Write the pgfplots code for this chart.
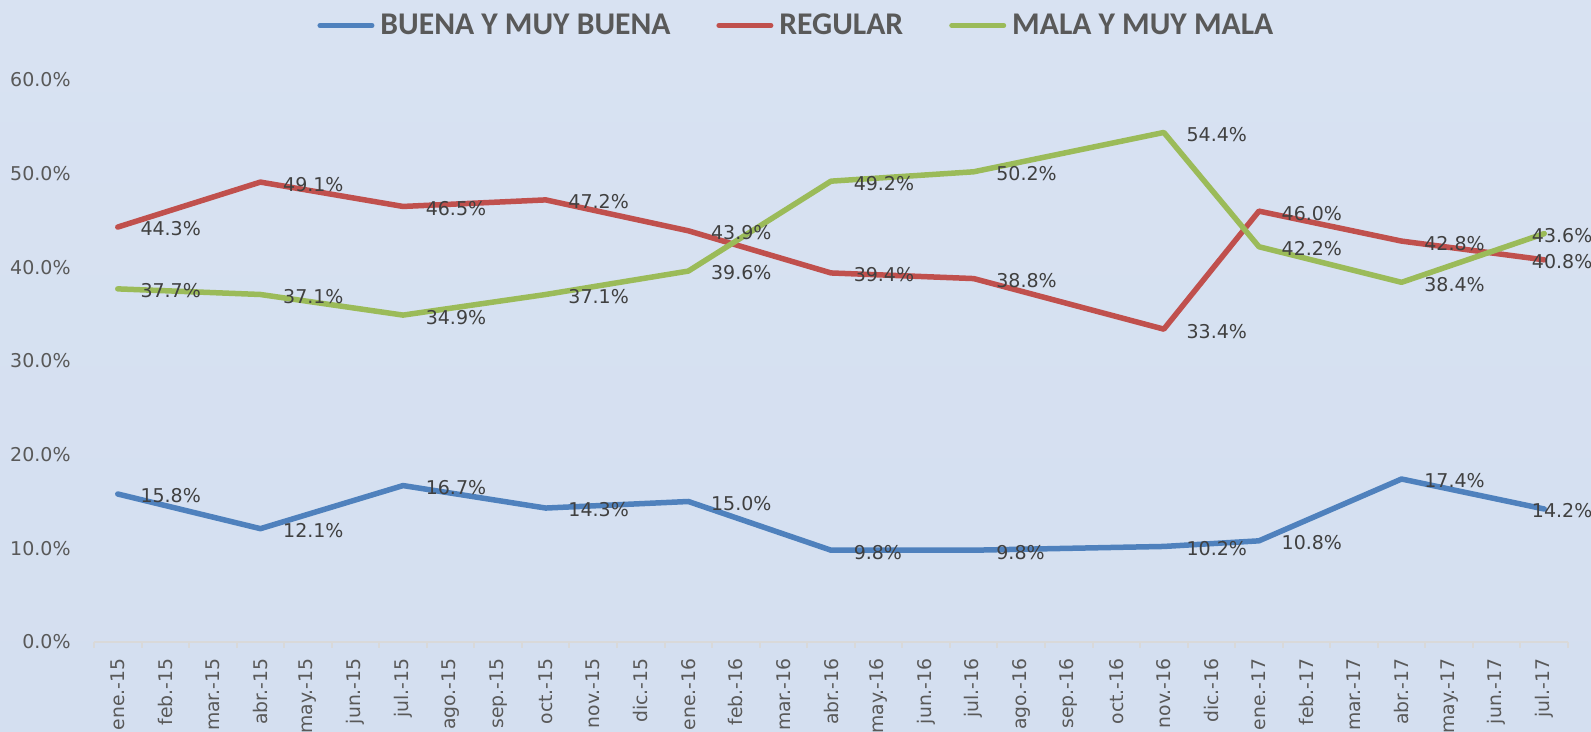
\documentclass[border=0pt]{standalone}
\usepackage{pgfplots}
\usepackage{pgfplotstable}
\pgfplotsset{compat=1.18}
\usepackage{fontspec}
\setmainfont{DejaVu Sans}
\newfontfamily\carlito{Carlito}
\definecolor{bgtop}{RGB}{216,226,242}
\definecolor{bgbot}{RGB}{212,223,240}
\definecolor{cblue}{RGB}{79,129,189}
\definecolor{cred}{RGB}{192,80,77}
\definecolor{cgreen}{RGB}{155,187,89}
\definecolor{txt}{RGB}{89,89,89}
\definecolor{lbl}{RGB}{64,64,64}
\definecolor{axc}{RGB}{217,217,217}
\pgfplotstableread{
x blue red green sh
0 15.8 44.3 37.7 10
3 12.1 49.1 37.1 10
6 16.7 46.5 34.9 10
9 14.3 47.2 37.1 10
12 15.0 43.9 39.6 10
15 9.8 39.4 49.2 10
18 9.8 38.8 50.2 10
22 10.2 33.4 54.4 10
24 10.8 46.0 42.2 10
27 17.4 42.8 38.4 10
30 14.2 40.8 43.6 -7.5
}\datatab
\begin{document}
\begin{tikzpicture}
\path[use as bounding box] (0,0) rectangle (795.5pt,366pt);
\shade[top color=bgtop,bottom color=bgbot] (0,0) rectangle (795.5pt,366pt);
\clip (0,0) rectangle (795.5pt,366pt);
\begin{axis}[
  at={(47pt,45pt)}, anchor=south west, scale only axis,
  width=737pt, height=281pt,
  xmin=-0.5, xmax=30.5, ymin=0, ymax=60,
  clip=false,
  axis x line*=bottom, axis y line*=left,
  x axis line style={draw=axc, line width=1pt},
  y axis line style={draw=none},
  xtick={0,...,30},
  xticklabels={ene.-15,feb.-15,mar.-15,abr.-15,may.-15,jun.-15,jul.-15,ago.-15,sep.-15,oct.-15,nov.-15,dic.-15,
               ene.-16,feb.-16,mar.-16,abr.-16,may.-16,jun.-16,jul.-16,ago.-16,sep.-16,oct.-16,nov.-16,dic.-16,
               ene.-17,feb.-17,mar.-17,abr.-17,may.-17,jun.-17,jul.-17},
  major tick length=0pt,
  minor xtick={-0.5,0.5,...,30.5},
  minor tick length=3pt,
  minor x tick style={draw=axc, line width=1pt},
  tick align=outside,
  xticklabel style={rotate=90, anchor=east, font=\fontsize{9.4}{10}\selectfont, text=txt, inner sep=0pt},
  xticklabel shift=8pt,
  ytick={0,10,...,60},
  yticklabel={\pgfmathprintnumber[fixed,fixed zerofill,precision=1]{\tick}\%},
  yticklabel style={font=\fontsize{9.5}{11}\selectfont, text=txt, inner sep=0pt},
  yticklabel shift=11.5pt,
  /pgf/number format/assume math mode=true,
  legend columns=3,
  legend style={at={(0.4772,1.097)}, anchor=center, draw=none, fill=none,
    font=\carlito\bfseries\fontsize{15.8}{18}\selectfont, text=txt,
    /tikz/every odd column/.append style={column sep=1pt},
    /tikz/every even column/.append style={column sep=21pt}},
  legend image code/.code={\draw[#1, line width=2.5pt, line cap=round] (0pt,0pt) -- (26pt,0pt);},
  visualization depends on={\thisrow{sh} \as \labshift},
  nodes near coords={\pgfmathprintnumber[fixed,fixed zerofill,precision=1]{\pgfplotspointmeta}\%},
  every node near coord/.style={anchor=west, xshift=\labshift pt, yshift=-1pt, inner sep=0pt,
    font=\fontsize{9.5}{11}\selectfont, text=lbl},
]
\addplot[cblue, line width=2.75pt, line join=round, line cap=round] table[x=x, y=blue] {\datatab};
\addlegendentry{BUENA Y MUY BUENA}
\addplot[cred, line width=2.75pt, line join=round, line cap=round] table[x=x, y=red] {\datatab};
\addlegendentry{REGULAR}
\addplot[cgreen, line width=2.75pt, line join=round, line cap=round] table[x=x, y=green] {\datatab};
\addlegendentry{MALA Y MUY MALA}
\end{axis}
\end{tikzpicture}
\end{document}
